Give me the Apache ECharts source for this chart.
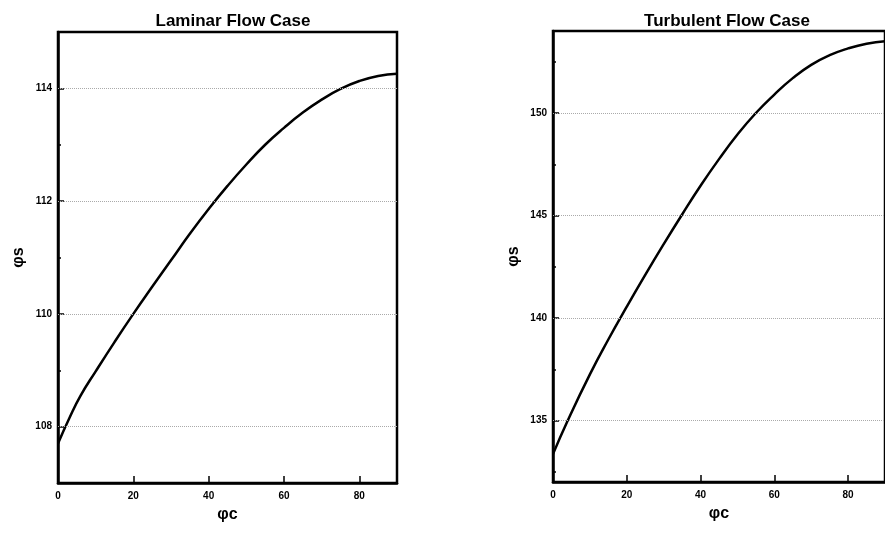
<!DOCTYPE html>
<html>
<head>
<meta charset="utf-8">
<script src="https://cdn.jsdelivr.net/npm/echarts@6/dist/echarts.min.js"></script>
<style>
  html, body { margin: 0; padding: 0; background: #fff; }
  #main { width: 885px; height: 542px; }
</style>
</head>
<body>
<div id="main"></div>
<script>
// 层流 (laminar)
var lamX = [0, 3, 6, 10, 15, 20, 25, 30, 35, 40, 45, 50, 55, 60, 65, 70, 75, 80, 85, 90]
var lamY = [107.7, 108.15, 108.55, 108.98, 109.5, 110.0, 110.48, 110.95, 111.42, 111.86, 112.27, 112.65, 113.0, 113.3, 113.57, 113.8, 113.99, 114.13, 114.22, 114.26]
var lamTicks = [108, 110, 112, 114]
var lamMinor = [109, 111, 113]

// 湍流 (turbulent)
var turbX = [0, 4, 10, 15, 20, 25, 30, 35, 40, 45, 50, 55, 60, 65, 70, 75, 80, 85, 90]
var turbY = [133.36, 135.0, 137.25, 138.95, 140.55, 142.1, 143.6, 145.05, 146.45, 147.75, 148.95, 150.0, 150.9, 151.7, 152.35, 152.82, 153.15, 153.38, 153.5]
var turbTicks = [135, 140, 145, 150]
var turbMinor = [132.5, 137.5, 142.5, 147.5, 152.5]

var xTicks = [0, 20, 40, 60, 80]

var font = 'Liberation Sans'

function pairs(xs, ys) {
  return xs.map(function (x, i) { return [x, ys[i]] })
}

function xAxisOf(gridIndex) {
  return {
    type: 'value',
    gridIndex: gridIndex,
    min: 0,
    max: 90,
    name: 'φc',
    nameLocation: 'middle',
    nameGap: 24,
    nameTextStyle: { color: '#000', fontFamily: font, fontWeight: 'bold', fontSize: 16 },
    axisLine: { show: true, lineStyle: { color: '#000', width: 2.5 } },
    axisTick: { show: true, inside: true, length: 7, customValues: xTicks, lineStyle: { color: '#000', width: 1.5 } },
    axisLabel: { customValues: xTicks, color: '#000', fontFamily: font, fontWeight: 'bold', fontSize: 10, margin: 8 },
    splitLine: { show: false }
  }
}

function yAxisOf(gridIndex, min, max, ticks) {
  return {
    type: 'value',
    gridIndex: gridIndex,
    min: min,
    max: max,
    name: 'φs',
    nameLocation: 'middle',
    nameGap: 31,
    nameTextStyle: { color: '#000', fontFamily: font, fontWeight: 'bold', fontSize: 16 },
    axisLine: { show: true, lineStyle: { color: '#000', width: 2.5 } },
    axisTick: { show: true, inside: true, length: 6, customValues: ticks, lineStyle: { color: '#000', width: 1.5 } },
    axisLabel: { customValues: ticks, color: '#000', fontFamily: font, fontWeight: 'bold', fontSize: 10, margin: 6 },
    splitLine: { show: false }
  }
}

// 次刻度，只画短线
function minorAxisOf(gridIndex, min, max, ticks) {
  return {
    type: 'value',
    gridIndex: gridIndex,
    min: min,
    max: max,
    position: 'left',
    axisLine: { show: false },
    axisTick: { show: true, inside: true, length: 3, customValues: ticks, lineStyle: { color: '#000', width: 1.5 } },
    axisLabel: { show: false },
    splitLine: { show: false }
  }
}

function curve(xAxisIndex, yAxisIndex, xs, ys, grids) {
  return {
    type: 'line',
    xAxisIndex: xAxisIndex,
    yAxisIndex: yAxisIndex,
    data: pairs(xs, ys),
    smooth: 0.5,
    showSymbol: false,
    silent: true,
    lineStyle: { color: '#000', width: 2.5 },
    markLine: {
      silent: true,
      symbol: 'none',
      label: { show: false },
      lineStyle: { color: '#aaa', type: 'dotted', width: 1 },
      data: grids.map(function (v) { return { yAxis: v } })
    },
    z: 3
  }
}

var myChart = echarts.init(document.getElementById('main'))
var option = {
  backgroundColor: '#fff',
  animation: false,
  title: [
    {
      text: 'Laminar Flow Case',
      left: 228,
      top: 8,
      textAlign: 'center',
      textStyle: { color: '#000', fontFamily: font, fontWeight: 'bold', fontSize: 17 }
    },
    {
      text: 'Turbulent Flow Case',
      left: 722,
      top: 8,
      textAlign: 'center',
      textStyle: { color: '#000', fontFamily: font, fontWeight: 'bold', fontSize: 17 }
    }
  ],
  grid: [
    { left: 58, top: 32, width: 339, height: 451, show: true, borderColor: '#000', borderWidth: 2.5, backgroundColor: 'transparent' },
    { left: 553, top: 31, width: 338, height: 451, show: true, borderColor: '#000', borderWidth: 2.5, backgroundColor: 'transparent' }
  ],
  xAxis: [xAxisOf(0), xAxisOf(1)],
  yAxis: [
    yAxisOf(0, 107, 115, lamTicks),
    minorAxisOf(0, 107, 115, lamMinor),
    yAxisOf(1, 132, 154, turbTicks),
    minorAxisOf(1, 132, 154, turbMinor)
  ],
  series: [
    curve(0, 0, lamX, lamY, lamTicks),
    curve(1, 2, turbX, turbY, turbTicks)
  ]
}

option && myChart.setOption(option)
</script>
</body>
</html>
